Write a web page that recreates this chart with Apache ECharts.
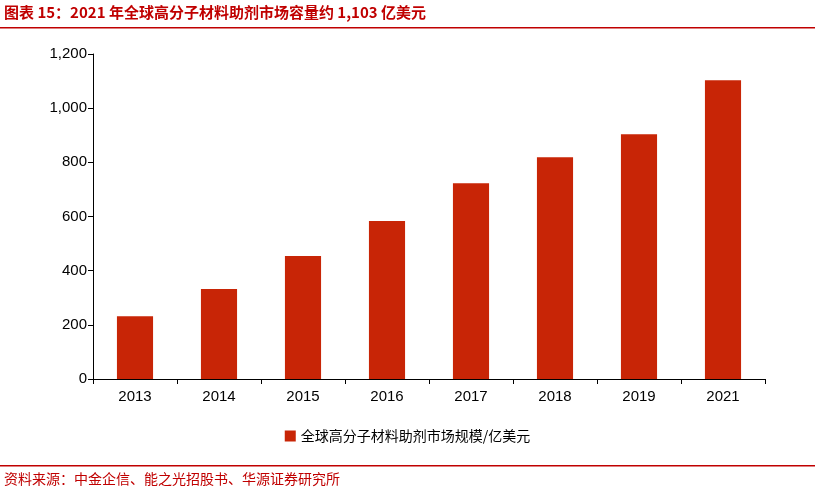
<!DOCTYPE html>
<html><head><meta charset="utf-8">
<script src="https://cdn.jsdelivr.net/npm/echarts@6/dist/echarts.min.js"></script>
<style>html,body{margin:0;padding:0;background:#fff}#c{width:815px;height:500px}</style>
</head><body><div id="c"></div>
<script>
const categories = ['2013','2014','2015','2016','2017','2018','2019','2021'];
const values = [232, 332, 454, 583, 723, 819, 904, 1103];
const seriesName = '全球高分子材料助剂市场规模/亿美元';
const titleText = '图表 15：2021 年全球高分子材料助剂市场容量约 1,103 亿美元';
const sourceText = '资料来源：中金企信、能之光招股书、华源证券研究所';
const red = '#C00000';
const chart = echarts.init(document.getElementById('c'));
chart.setOption({
  animation:false,
  textStyle:{fontFamily:'Liberation Sans, Arial, Noto Sans CJK SC'},
  graphic:[
    {type:'text',left:4,top:5,style:{text:titleText,fill:red,font:'bold 15px "Noto Sans CJK SC", sans-serif'}},
    {type:'rect',shape:{x:0,y:27,width:815,height:1.5},style:{fill:red}},
    {type:'rect',shape:{x:0,y:465,width:815,height:1.5},style:{fill:red}},
    {type:'text',left:4,top:472,style:{text:sourceText,fill:red,font:'14px "Noto Sans CJK SC", sans-serif'}}
  ],
  legend:{bottom:52,left:'center',itemWidth:11,itemHeight:11,icon:'rect',
    textStyle:{fontSize:14,color:'#000',fontFamily:'Noto Sans CJK SC'},data:[seriesName]},
  grid:{left:93,right:50,top:54,bottom:121},
  xAxis:{type:'category',data:categories,
    axisLine:{lineStyle:{color:'#000'}},axisTick:{show:true,length:5,lineStyle:{color:'#000'}},
    axisLabel:{color:'#000',fontSize:15,margin:10}},
  yAxis:{type:'value',min:0,max:1200,interval:200,
    axisLine:{show:true,lineStyle:{color:'#000'}},axisTick:{show:true,length:5,lineStyle:{color:'#000'}},
    splitLine:{show:false},
    axisLabel:{color:'#000',fontSize:15,margin:6,formatter:v=>v.toLocaleString('en-US')}},
  series:[{name:seriesName,type:'bar',data:values,barWidth:'43%',itemStyle:{color:'#C82506'}}]
});
</script></body></html>
